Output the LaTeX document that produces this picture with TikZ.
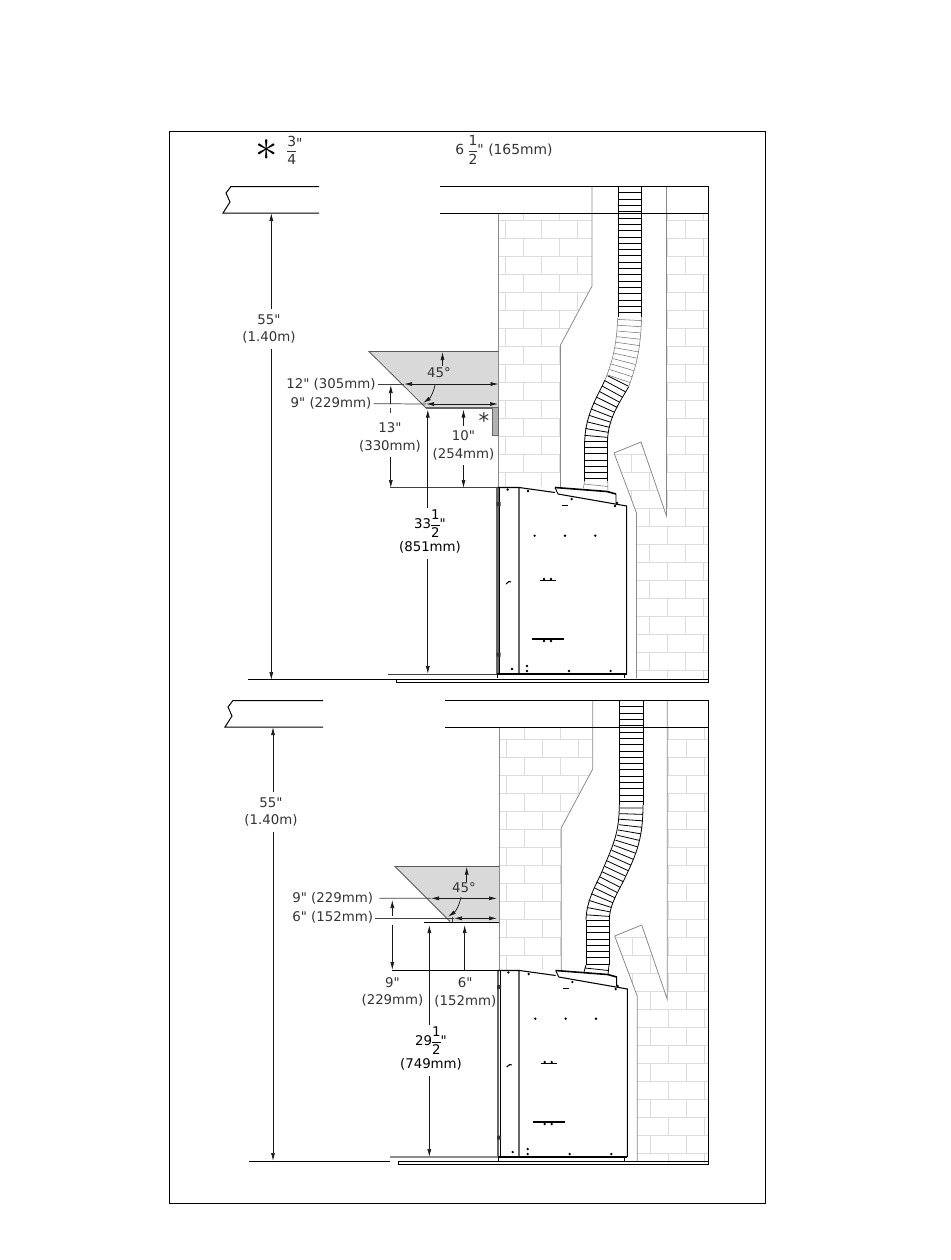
\documentclass[tikz,border=0pt]{standalone}
\usepackage{graphicx}
\usepackage{fontspec}
\setmainfont[Ligatures=TeXOff]{DejaVu Sans}
\usetikzlibrary{arrows.meta}
\usetikzlibrary{positioning}
\usetikzlibrary{decorations.markings}
\definecolor{wallgray}{HTML}{8A8A8A}
\definecolor{brickgray}{HTML}{DCDCDC}
\definecolor{hoodgray}{HTML}{D9D9D9}
\definecolor{labelgray}{HTML}{333333}
\tikzset{
    wall/.style={draw=wallgray, line width=0.6pt},
    brick/.style={draw=brickgray, line width=0.5pt},
    ceiling/.style={draw=black, line width=0.75pt},
    hood/.style={fill=hoodgray, draw=none},
    hoodedge/.style={draw=black!65, line width=0.6pt},
    dim/.style={draw=black!90, line width=0.55pt, -{Latex[length=6pt,width=3pt]}},
    dimboth/.style={draw=black!90, line width=0.55pt, {Latex[length=6pt,width=3pt]}-{Latex[length=6pt,width=3pt]}},
    plainline/.style={draw=black!75, line width=0.55pt},
    label/.style={text=labelgray, inner sep=0pt, font=\fontsize{10}{13}\selectfont, align=center},
    rib/.style={draw=black, line width=0.6pt},
    ribpale/.style={draw=black!55, line width=0.4pt},
    stove/.style={draw=black, line width=0.8pt},
    stovepost/.style={draw=black!60, line width=1.6pt},
    bolt/.style={fill=black, draw=none},
    flueribs/.style={postaction={decorate}, decoration={markings,
        mark=between positions 0 and 1 step 4.5pt with {\draw[#1] (0,-11.7)--(0,11.7);}}},
}
\newcommand{\halfs}[2]{{\nulldelimiterspace=0pt $\displaystyle\frac{\hbox{#1}}{\hbox{#2}}$}}
% bricks and chimney walls, #1 top of chimney, #2 underside of the ceiling
\newcommand{\chimney}[2]{
	\begin{scope}
	\clip (498.5,#2)--(592,#2)--(592,286)--(560.5,345)--(560.5,487)--(498.5,487)--cycle
	      (666.5,#2)--(708,#2)--(708,680)--(636.5,680)--(636.5,513)--(614,453)--(641,442)--(666.5,516)--cycle;
	\foreach \k in {-2,...,25}{
		\pgfmathsetmacro{\rowy}{220.3+18*\k}
		\pgfmathsetmacro{\rowx}{505.3+18*mod(\k+2,2)}
		\draw[brick] (499,\rowy)--(708,\rowy);
		\foreach \c in {0,...,5}{
			\draw[brick] (\rowx+36*\c,\rowy)--(\rowx+36*\c,\rowy+18);
		}
	}
	\end{scope}
	\draw[wall] (498.5,#2)--(498.5,487);
	\draw[wall] (592,#1)--(592,286)--(560.5,345)--(560.5,487);
	\draw[wall] (666.5,#1)--(666.5,516)--(641,442)--(614,453)--(636.5,513)--(636.5,678);
}
% the stove body
\newcommand{\stovebody}{
	\draw[stovepost] (497.5,488)--(497.5,674);
	\draw[stovepost] (518.7,488)--(518.7,674);
	\draw[draw=black, line width=0.5pt] (499.8,488)--(499.8,674);
	\draw[stove] (497,487.5)--(519,487.5)--(555,492.5);
	\draw[stove] (558,494)--(626.7,506)--(626.7,674);
	\draw[draw=black, line width=1.6pt] (497,673.8)--(626.7,673.8);
	\draw[draw=black, line width=0.6pt] (497.5,674)--(497.5,678) (624,674)--(624,678);
	\draw[draw=black, line width=1.2pt] (555,487.5)--(607,491.5)--(616,494);
	\draw[draw=black, line width=0.7pt] (555,487.5)--(558,494) (616,494)--(616,503);
	\fill[black!80] (496.5,502) rectangle (500.5,506) (496.5,652.5) rectangle (500.5,656.5);
	\draw[draw=black, line width=1.4pt] (562,505.5)--(568,505.5);
	\draw[draw=black, line width=1pt] (540,580.7)--(556,580.7);
	\draw[draw=black, line width=1pt] (532,639)--(564,639);
	\draw[draw=black, line width=0.8pt] (506,584)--(509,581.5)--(511,582);
	\foreach \bx/\by in {507.7/489.5, 528/491, 571.7/499, 615/506, 617/503,
		534.6/535.7, 565/535.7, 595.3/535.7, 544/579, 551/579, 544/641, 551/641,
		512/669, 527/666, 527/671, 569/671, 610.6/671}{
		\fill[bolt] (\bx,\by) circle (1.3);
	}
}
\begin{document}
\begin{tikzpicture}[x=0.75pt,y=-0.75pt]
	\useasboundingbox (0,0) rectangle (950,1260);
	\draw[draw=black, line width=0.6pt] (169,131) rectangle (765,1203);
	\node[font=\fontsize{24}{24}\selectfont, inner sep=0pt] (starbig) at (266.7,150) {\scalebox{1.35}{$\vcenter{\hbox{$*$}}$}};
	\node[label, font=\fontsize{10.4}{13}\selectfont] (starsize) at (295,150) {\halfs{3}{4}\raisebox{5pt}{"}};
	\node[label, font=\fontsize{10.4}{13}\selectfont] (flueoffset) at (504,150) {6 \halfs{1}{2}" (165mm)};

	%% upper drawing
	\fill[hood] (369,351.5)--(498.5,351.5)--(498.5,408)--(426,408)--cycle;
	\chimney{186}{213}
	\stovebody
	\draw[hoodedge] (498.5,351.5)--(369,351.5)--(426,408);
	\draw[draw=black!60, line width=1.2pt] (426,408)--(498.5,408);
	\draw[fill=black!30, draw=black!60, line width=0.6pt] (492.3,407.7) rectangle (498,435.7);
	\node[label, font=\fontsize{16}{16}\selectfont] (star) at (484,421) {*};
	% flue
	\foreach \y in {186.5,192.8,...,317}{
		\draw[rib] (618.5,\y)--(641.5,\y);
	}
	\draw[rib] (618.5,186.5)--(618.5,317) (641.5,186.5)--(641.5,317);
	\path[flueribs=ribpale] (629.7,320) .. controls (628.5,345) and (626,358) .. (618,381);
	\path[flueribs=rib] (618,381) .. controls (610,397) and (597,415) .. (596,440);
	\draw[ribpale] (617.7,318) .. controls (616.5,345) and (613,360) .. (605,380);
	\draw[ribpale] (641.7,317) .. controls (640.5,345) and (638,362) .. (628.5,387);
	\draw[rib] (605,380) .. controls (597,397) and (585.5,415) .. (584.7,441);
	\draw[rib] (628.5,387) .. controls (620,402) and (608,418) .. (607.5,441);
	\foreach \y in {441,447.3,...,481}{
		\draw[rib] (584.5,\y)--(607.7,\y);
	}
	\draw[rib] (584.5,441)--(584.5,481) (607.7,441)--(607.7,481);
	\draw[ribpale] (584.5,481)--(583.5,488) (607.7,481)--(608,490) (584,484)--(607.7,486.5);
	% ceiling and floor
	\draw[ceiling] (319,186.5)--(231,186.5)--(226,193)--(230,202)--(223,213)--(319,213);
	\draw[ceiling] (440,186.5)--(708,186.5)--(708,682.3)--(396,682.3)--(396,680);
	\draw[ceiling] (440,213)--(708,213);
	\draw[ceiling] (248,679.8)--(708,679.8);
	\draw[plainline] (388,674.3)--(497,674.3);
	\draw[plainline] (390,487.7)--(498,487.7);
	% dimensions
	\node[label] (high) at (269,329) {55"\\(1.40m)};
	\coordinate (hightop) at (271.3,213);
	\coordinate (highbot) at (271.3,680);
	\draw[dim] (hightop |- high.north)++(0,-5)--(hightop);
	\draw[dim] (highbot |- high.south)++(0,5)--(highbot);
	\node[label] (anglea) at (439,372.7) {45°};
	\coordinate (angleup) at (442.5,352);
	\draw[dim] (angleup |- anglea.north)++(0,-1)--(angleup);
	\draw[dim] (435,385) to[bend left=22] (423,403);
	\node[label] (deptha) at (331,384) {12" (305mm)};
	\coordinate (deptharm) at (404,384);
	\coordinate (depthwall) at (498.5,384);
	\draw[plainline] (deptha.east)++(2,0)--(deptharm);
	\draw[dimboth] (deptharm)--(depthwall);
	\node[label] (depthb) at (331,403.7) {9" (229mm)};
	\coordinate (tipa) at (426,404);
	\coordinate (tipb) at (498,404);
	\draw[plainline] (depthb.east)++(2,0)--(tipa);
	\draw[dimboth] (tipa)--(tipb);
	\node[label] (clear) at (390,437.5) {13"\\(330mm)};
	\coordinate (cleartop) at (390.8,385);
	\coordinate (clearbot) at (390.8,488);
	\draw[dim] (390.8,404)--(cleartop);
	\draw[plainline] (390.8,408)--(390.8,413);
	\draw[dim] (clearbot |- clear.south)++(0,5)--(clearbot);
	\node[label] (trim) at (463.5,445.5) {10"\\(254mm)};
	\coordinate (trimtop) at (463.5,409.5);
	\coordinate (trimbot) at (463.5,488);
	\draw[dim] (trimtop |- trim.north)++(0,-5)--(trimtop);
	\draw[dim] (trimbot |- trim.south)++(0,5)--(trimbot);
	\node[label, text=black] (shelf) at (430,531.5) {33\halfs{1}{2}"\\[2pt](851mm)};
	\coordinate (shelftop) at (427.8,409.5);
	\coordinate (shelfbot) at (427.8,674);
	\draw[dim] (shelftop |- shelf.north)++(0,-1)--(shelftop);
	\draw[dim] (shelfbot |- shelf.south)++(0,5)--(shelfbot);

	%% lower drawing
	\fill[hood] (395,866.5)--(499.3,866.5)--(499.3,921.5)--(450,921.5)--cycle;
	\begin{scope}[shift={(0.7,483)}]
		\chimney{217}{244}
		\stovebody
	\end{scope}
	\draw[hoodedge] (499.3,866.5)--(395,866.5)--(450,921.5);
	\draw[draw=black, line width=0.8pt] (424.3,922.3)--(499.3,922.3);
	\draw[plainline] (452,917)--(452,922);
	% flue
	\foreach \y in {700.5,706.8,...,805}{
		\draw[rib] (619.3,\y)--(643,\y);
	}
	\draw[rib] (619.3,700.5)--(619.3,805) (643,700.5)--(643,805);
	\path[flueribs=rib] (631.2,808) .. controls (631,840) and (625,850) .. (612,878) .. controls (604,894) and (598,903) .. (597.6,918);
	\draw[rib] (619.3,805) .. controls (619,835) and (613,845) .. (600.5,875) .. controls (593,890) and (586.5,903) .. (586,920);
	\draw[rib] (643,805) .. controls (643,840) and (636,855) .. (623,882) .. controls (615,897) and (609.5,907) .. (609.3,920);
	\foreach \y in {920,926.3,...,966}{
		\draw[rib] (586,\y)--(609,\y);
	}
	\draw[rib] (586,920)--(586,965) (609,920)--(609,965);
	\draw[rib] (586,965)--(584,972) (609,965)--(608,975) (585,968)--(608.5,970.5);
	% ceiling and floor
	\draw[ceiling] (323,700.5)--(233,700.5)--(228,707)--(232,716)--(225,727)--(323,727);
	\draw[ceiling] (445,700.5)--(708.5,700.5)--(708.5,1164.3)--(398,1164.3)--(398,1161.3);
	\draw[ceiling] (445,727)--(708.5,727);
	\draw[ceiling] (249,1161.3)--(390,1161.3) (398,1161.3)--(708.5,1161.3);
	\draw[draw=black!45, line width=0.8pt] (390,1157)--(498,1157);
	\draw[ceiling] (392,970.5)--(499.3,970.5);
	% dimensions
	\node[label] (highb) at (271,812) {55"\\(1.40m)};
	\coordinate (highbtop) at (273,727);
	\coordinate (highbbot) at (273,1161);
	\draw[dim] (highbtop |- highb.north)++(0,-5)--(highbtop);
	\draw[dim] (highbbot |- highb.south)++(0,5)--(highbbot);
	\node[label] (angleb) at (464,888) {45°};
	\coordinate (anglebup) at (466.7,866.7);
	\draw[dim] (anglebup |- angleb.north)++(0,-1)--(anglebup);
	\draw[dim] (461,897) to[bend left=22] (448,916.7);
	\node[label] (depthc) at (332.7,898.5) {9" (229mm)};
	\coordinate (deptharmb) at (431,898.3);
	\coordinate (depthwallb) at (497,898.3);
	\draw[plainline] (depthc.east)++(6,-0.2)--(deptharmb);
	\draw[dimboth] (deptharmb)--(depthwallb);
	\node[label] (depthd) at (332.7,917.7) {6" (152mm)};
	\coordinate (tipc) at (454,918.3);
	\coordinate (tipd) at (497,918.3);
	\draw[plainline] (depthd.east)++(2,0.6)--(tipc);
	\draw[dimboth] (tipc)--(tipd);
	\node[label] (clearb) at (392.5,992) {9"\\(229mm)};
	\coordinate (clearbtop) at (392.3,900);
	\coordinate (clearbbot) at (392.3,970);
	\draw[dim] (392.3,916)--(clearbtop);
	\draw[dim] (392.3,925)--(clearbbot);
	\node[label] (trimb) at (465.3,992.5) {6"\\(152mm)};
	\coordinate (trimbtop) at (464.7,925);
	\coordinate (trimbbot) at (464.7,970);
	\draw[dim] (trimbbot)--(trimbtop);
	\node[label, text=black] (shelfb) at (431,1048.5) {29\halfs{1}{2}"\\[2pt](749mm)};
	\coordinate (shelfbtop) at (429.3,925);
	\coordinate (shelfbbot) at (429.3,1157);
	\draw[dim] (shelfbtop |- shelfb.north)++(0,-1)--(shelfbtop);
	\draw[dim] (shelfbbot |- shelfb.south)++(0,5)--(shelfbbot);
\end{tikzpicture}
\end{document}
